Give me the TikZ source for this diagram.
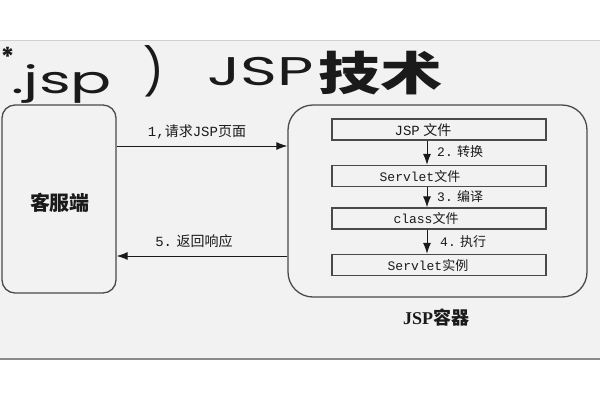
\documentclass[tikz,border=0pt]{standalone}
\usepackage{fontspec}
\setmainfont{Liberation Serif}
\newfontfamily\cjk{Noto Sans CJK SC}
\newfontfamily\mono{Liberation Mono}
\newfontfamily\pop{Poppins}
\usetikzlibrary{arrows.meta}
\definecolor{panel}{HTML}{F2F2F2}
\definecolor{topline}{HTML}{D0D0D0}
\definecolor{botline}{HTML}{8A8A8A}
\definecolor{edge}{HTML}{4A4A4A}
\definecolor{ink}{HTML}{1A1A1A}
\newcommand\zh[1]{{\cjk #1}}
\newcommand\mo[1]{{\mono #1}}
\tikzset{
  roundbox/.style={draw=edge, line width=1.3pt, fill=panel, inner sep=0pt},
  filebox/.style={draw=edge, line width=1.3pt, fill=panel, minimum width=214pt, minimum height=21pt, inner sep=0pt},
  flow/.style={draw=ink, line width=1pt, -{Latex[length=11pt,width=8pt]}},
  lbl/.style={text=ink, inner sep=0pt, font=\fontsize{14}{16}\selectfont},
  boxtxt/.style={text=ink, inner sep=0pt, font=\fontsize{13}{15}\selectfont},
  steplbl/.style={text=ink, inner sep=0pt, anchor=west, font=\fontsize{13}{15}\selectfont},
  title/.style={text=ink, inner sep=0pt}
}
\begin{document}
\begin{tikzpicture}[x=1pt,y=-1pt]
\useasboundingbox (0,0) rectangle (600,400);
\fill[white] (0,0) rectangle (600,400);
\fill[panel] (0,40) rectangle (600,359);
\draw[topline, line width=1pt] (0,40) -- (600,40);
\draw[botline, line width=1.3pt] (0,359) -- (600,359);

% title
\node[title, anchor=north west, font=\pop\bfseries\fontsize{26}{28}\selectfont] (star) at (0.5,47) {*};
\node[title, anchor=base west, font=\pop\fontsize{38}{40}\selectfont] (ext) at (11,93) {\scalebox{1.6}[1]{.jsp}};
\node[title, font=\pop\fontsize{46}{48}\selectfont] (paren) at (154,71) {)};
\node[title, anchor=base west, font=\pop\fontsize{40}{42}\selectfont] (jsp) at (207,85) {\scalebox{1.57}[1]{JSP}};
\node[title, anchor=base west, font=\cjk\bfseries\fontsize{46}{48}\selectfont] (tech) at (318,90) {\scalebox{1.35}[1]{技术}};

% client
\node[roundbox, rounded corners=13pt, minimum width=114pt, minimum height=188pt] (client) at (59,199) {};
\node[text=ink, font=\cjk\bfseries\fontsize{20}{22}\selectfont] (clienttxt) at (60,203) {客服端};

% container
\node[roundbox, rounded corners=25pt, minimum width=299pt, minimum height=192pt] (cont) at (437.5,201) {};
\node[text=ink, inner sep=0pt, font=\bfseries\fontsize{18}{20}\selectfont] (conttxt) at (436,318) {JSP\zh{容器}};

% inner boxes
\node[filebox] (b1) at (439,129.5) {};
\node[filebox] (b2) at (439,176) {};
\node[filebox] (b3) at (439,218.5) {};
\node[filebox] (b4) at (439,265) {};
\node[boxtxt, font=\fontsize{14}{16}\selectfont] (t1) at (423,130) {\mo{JSP} \zh{文件}};
\node[boxtxt] (t2) at (420,176.5) {\mo{Servlet}\zh{文件}};
\node[boxtxt] (t3) at (426,219) {\mo{class}\zh{文件}};
\node[boxtxt] (t4) at (428,265.5) {\mo{Servlet}\zh{实例}};

\coordinate (ax) at (427,0);
\draw[flow] (b1.south -| ax) -- (b2.north -| ax);
\draw[flow] (b2.south -| ax) -- (b3.north -| ax);
\draw[flow] (b3.south -| ax) -- (b4.north -| ax);
\node[steplbl] (s2) at (437,152) {\mo{2.} \zh{转换}};
\node[steplbl] (s3) at (437,197) {\mo{3.} \zh{编译}};
\node[steplbl] (s4) at (440,242) {\mo{4.} \zh{执行}};

% request / response
\coordinate (req) at (0,146);
\coordinate (resp) at (0,256);
\draw[flow] (client.east |- req) -- (cont.west |- req);
\draw[flow] (cont.west |- resp) -- (client.east |- resp);
\node[lbl] (l1) at (197,132) {\mo{1,}\zh{请求}\mo{JSP}\zh{页面}};
\node[lbl] (l5) at (194,241) {\mo{5.} \zh{返回响应}};
\end{tikzpicture}
\end{document}
